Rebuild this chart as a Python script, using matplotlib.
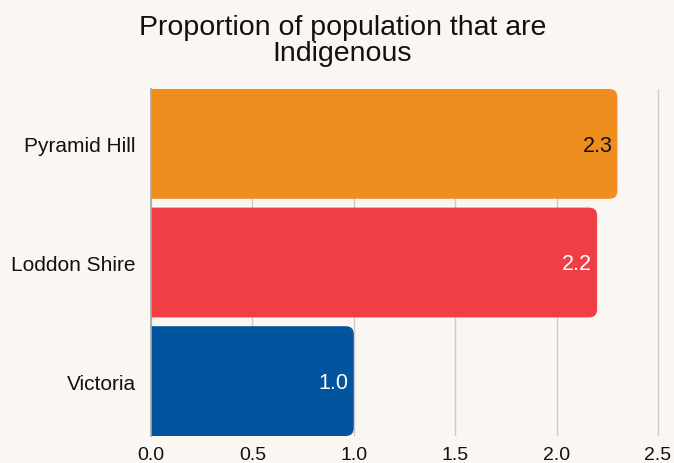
import matplotlib
matplotlib.use("Agg")
import matplotlib.pyplot as plt
from matplotlib.patches import FancyBboxPatch

# data
areas = ["Pyramid Hill", "Loddon Shire", "Victoria"]
values = [2.3, 2.2, 1.0]
bar_colors = ["#EF8D1F", "#EF3E44", "#00559E"]
label_colors = ["#111111", "white", "white"]
xticks = [0.0, 0.5, 1.0, 1.5, 2.0, 2.5]

BG = "#FAF7F2"
plt.rcParams["font.family"] = ["Liberation Sans", "DejaVu Sans"]

fig = plt.figure(figsize=(6.74, 4.64), dpi=100, facecolor=BG)
ax = fig.add_axes([151 / 674, 1 - 437 / 464, 511 / 674, 347 / 464])
ax.set_facecolor(BG)

XMAX = 2.52
BAR_H = 0.926
ax.set_xlim(0, XMAX)
ax.set_ylim(-BAR_H / 2, len(areas) - 1 + BAR_H / 2)

# pixels per data unit, used to keep the corners circular
px_x = 511 / XMAX
px_y = 347 / (len(areas) - 1 + BAR_H)
aspect = px_x / px_y
radius = 8 / px_x

for i, (name, v) in enumerate(zip(areas, values)):
    y = len(areas) - 1 - i
    patch = FancyBboxPatch((-0.2, y - BAR_H / 2), v + 0.2, BAR_H,
                           boxstyle="round,pad=0,rounding_size=%f" % radius,
                           mutation_aspect=aspect,
                           facecolor=bar_colors[i], edgecolor="none", zorder=2)
    ax.add_patch(patch)
    ax.text(v - 0.025, y - 0.01, "%.1f" % v, ha="right", va="center",
            fontsize=15.5, color=label_colors[i], zorder=3)

ax.set_yticks(range(len(areas)))
ax.set_yticklabels(areas[::-1], fontsize=15, color="#111111")
ax.set_xticks(xticks)
ax.set_xticklabels(["%.1f" % t for t in xticks], fontsize=14, color="#111111")
ax.tick_params(axis="y", length=0, pad=11)
ax.tick_params(axis="x", length=0, pad=7)

ax.grid(axis="x", color="#CFCCC8", linewidth=1, zorder=0)
ax.set_axisbelow(True)
for s in ["top", "right", "bottom"]:
    ax.spines[s].set_visible(False)
ax.spines["left"].set_color("#A8A6A3")
ax.spines["left"].set_linewidth(1.2)

fig.text(0.508, 1 - 41 / 464, "Proportion of population that are\nIndigenous",
         ha="center", va="center", fontsize=20.5, color="#111111", linespacing=0.98)

fig.savefig("out.png", dpi=100, facecolor=BG)
